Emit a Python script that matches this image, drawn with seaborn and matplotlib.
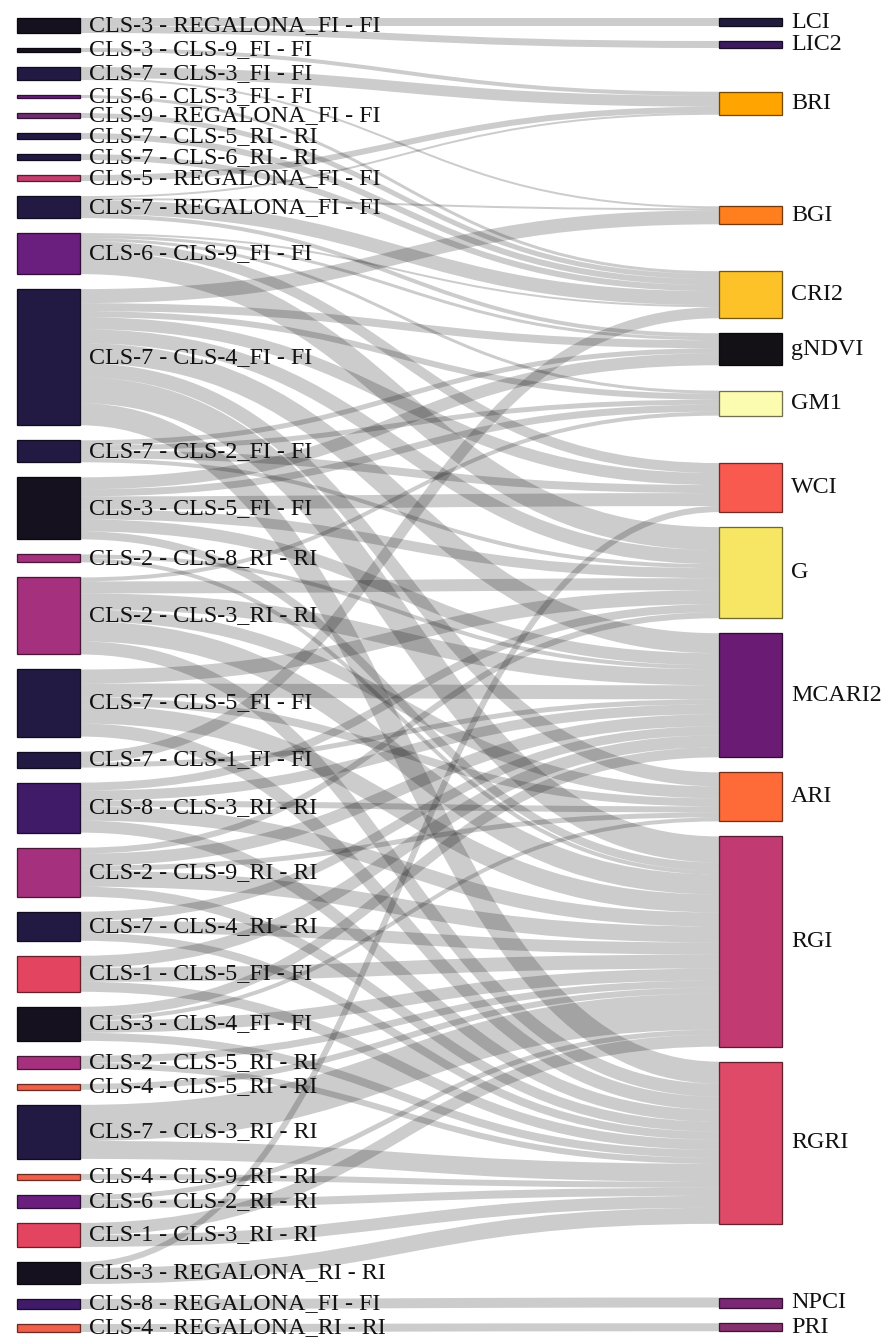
import numpy as np
import pandas as pd
import matplotlib
matplotlib.use('Agg')
import matplotlib.pyplot as plt
import matplotlib.colors as mcolors
from matplotlib.path import Path
from matplotlib.patches import PathPatch, Rectangle
import seaborn as sns

# ========== Data ==========
left_nodes = [
    'CLS-3 - REGALONA_FI - FI', 'CLS-3 - CLS-9_FI - FI', 'CLS-7 - CLS-3_FI - FI',
    'CLS-6 - CLS-3_FI - FI', 'CLS-9 - REGALONA_FI - FI', 'CLS-7 - CLS-5_RI - RI',
    'CLS-7 - CLS-6_RI - RI', 'CLS-5 - REGALONA_FI - FI', 'CLS-7 - REGALONA_FI - FI',
    'CLS-6 - CLS-9_FI - FI', 'CLS-7 - CLS-4_FI - FI', 'CLS-7 - CLS-2_FI - FI',
    'CLS-3 - CLS-5_FI - FI', 'CLS-2 - CLS-8_RI - RI', 'CLS-2 - CLS-3_RI - RI',
    'CLS-7 - CLS-5_FI - FI', 'CLS-7 - CLS-1_FI - FI', 'CLS-8 - CLS-3_RI - RI',
    'CLS-2 - CLS-9_RI - RI', 'CLS-7 - CLS-4_RI - RI', 'CLS-1 - CLS-5_FI - FI',
    'CLS-3 - CLS-4_FI - FI', 'CLS-2 - CLS-5_RI - RI', 'CLS-4 - CLS-5_RI - RI',
    'CLS-7 - CLS-3_RI - RI', 'CLS-4 - CLS-9_RI - RI', 'CLS-6 - CLS-2_RI - RI',
    'CLS-1 - CLS-3_RI - RI', 'CLS-3 - REGALONA_RI - RI', 'CLS-8 - REGALONA_FI - FI',
    'CLS-4 - REGALONA_RI - RI',
]
right_nodes = ['LCI', 'LIC2', 'BRI', 'BGI', 'CRI2', 'gNDVI', 'GM1', 'WCI', 'G',
               'MCARI2', 'ARI', 'RGI', 'RGRI', 'NPCI', 'PRI']

# links: source (index into left_nodes), target, value
link_source = [0, 0,
               1,
               2, 2,
               3, 4, 5, 6, 7,
               8, 8, 8, 8,
               9, 9, 9, 9, 9,
               10, 10, 10, 10, 10, 10, 10, 10, 10,
               11, 11, 11, 11,
               12, 12, 12, 12, 12, 12,
               13, 13,
               14, 14, 14, 14, 14, 14,
               15, 15, 15, 15, 15,
               16, 16,
               17, 17, 17, 17, 17,
               18, 18, 18, 18, 18,
               19, 19, 19,
               20, 20, 20,
               21, 21, 21, 21,
               22, 22,
               23,
               24, 24,
               25,
               26, 26,
               27, 27,
               28, 28,
               29,
               30]
link_target = ['LCI', 'LIC2',
               'BRI',
               'BRI', 'BGI',
               'CRI2', 'CRI2', 'CRI2', 'CRI2', 'BRI',
               'BRI', 'BGI', 'CRI2', 'gNDVI',
               'CRI2', 'gNDVI', 'GM1', 'WCI', 'G',
               'BGI', 'gNDVI', 'GM1', 'WCI', 'G', 'MCARI2', 'ARI', 'RGI', 'RGRI',
               'gNDVI', 'GM1', 'WCI', 'G',
               'gNDVI', 'GM1', 'WCI', 'G', 'MCARI2', 'RGI',
               'MCARI2', 'RGI',
               'GM1', 'G', 'MCARI2', 'ARI', 'RGI', 'RGRI',
               'G', 'MCARI2', 'ARI', 'RGI', 'RGRI',
               'CRI2', 'MCARI2',
               'G', 'MCARI2', 'ARI', 'RGI', 'RGRI',
               'G', 'MCARI2', 'ARI', 'RGI', 'RGRI',
               'MCARI2', 'RGI', 'RGRI',
               'MCARI2', 'RGI', 'RGRI',
               'MCARI2', 'ARI', 'RGI', 'RGRI',
               'RGI', 'RGRI',
               'RGI',
               'RGI', 'RGRI',
               'RGRI',
               'RGI', 'RGRI',
               'RGI', 'RGRI',
               'WCI', 'RGRI',
               'NPCI',
               'PRI']
link_value = [8, 7,
              4,
              11, 2,
              3, 5, 6, 6, 6,
              2, 2, 14, 4,
              2, 3, 3, 10, 23,
              14, 8, 6, 12, 14, 20, 14, 26, 22,
              5, 5, 8, 4,
              12, 7, 13, 10, 12, 8,
              4, 4,
              4, 12, 16, 12, 20, 13,
              14, 14, 8, 18, 13,
              11, 5,
              8, 10, 6, 14, 12,
              6, 12, 5, 16, 10,
              9, 12, 8,
              12, 14, 10,
              10, 4, 12, 8,
              7, 6,
              6,
              36, 18,
              6,
              5, 8,
              12, 12,
              6, 16,
              10,
              8]

prefix_colors = {'CLS-1': '#e3445f', 'CLS-2': '#a5307d', 'CLS-3': '#16111e',
                 'CLS-4': '#ef5f49', 'CLS-5': '#c43d6c', 'CLS-6': '#6a1e7e',
                 'CLS-7': '#231a44', 'CLS-8': '#3f1b68', 'CLS-9': '#6f2c70'}
right_colors = {'LCI': '#221c3c', 'LIC2': '#3b1c5c', 'BRI': '#ffa400', 'BGI': '#ff7f1e',
                'CRI2': '#fec229', 'gNDVI': '#141116', 'GM1': '#fcfcb0', 'WCI': '#f95a50',
                'G': '#f6e664', 'MCARI2': '#6a1c74', 'ARI': '#ff6b38', 'RGI': '#c13b72',
                'RGRI': '#de4a67', 'NPCI': '#7b2774', 'PRI': '#87306f'}

# ========== Sankey layout (d3-sankey style, fixed node order) ==========
W, H, DPI = 884, 1338, 100
EX0, EY0, EX1, EY1 = 17, 18, 782, 1332
NODE_W = 63
PAD = 15
ITERATIONS = 6

links = pd.DataFrame({'source': [left_nodes[i] for i in link_source],
                      'target': link_target, 'value': link_value})

nodes = {}
columns = []
for layer, names in enumerate([left_nodes, right_nodes]):
    col = []
    for name in names:
        nodes[name] = {'name': name, 'layer': layer, 'src': [], 'tgt': []}
        col.append(nodes[name])
    columns.append(col)

link_objs = []
for row in links.itertuples(index=False):
    lk = {'source': nodes[row.source], 'target': nodes[row.target], 'value': row.value}
    nodes[row.source]['src'].append(lk)
    nodes[row.target]['tgt'].append(lk)
    link_objs.append(lk)

out_sum = links.groupby('source')['value'].sum()
in_sum = links.groupby('target')['value'].sum()
for n in nodes.values():
    n['value'] = max(out_sum.get(n['name'], 0), in_sum.get(n['name'], 0))
    n['x0'] = EX0 + n['layer'] * (EX1 - EX0 - NODE_W)
    n['x1'] = n['x0'] + NODE_W

py = min(PAD, (EY1 - EY0) / (max(len(c) for c in columns) - 1))
ky = min((EY1 - EY0 - (len(c) - 1) * py) / sum(n['value'] for n in c) for c in columns)


def reorder_links(n):
    n['src'].sort(key=lambda l: l['target']['y0'])
    n['tgt'].sort(key=lambda l: l['source']['y0'])


def reorder_node_links(n):
    for l in n['tgt']:
        l['source']['src'].sort(key=lambda k: k['target']['y0'])
    for l in n['src']:
        l['target']['tgt'].sort(key=lambda k: k['source']['y0'])


def target_top(s, t):
    y = s['y0'] - (len(s['src']) - 1) * py / 2
    for l in s['src']:
        if l['target'] is t:
            break
        y += l['width'] + py
    for l in t['tgt']:
        if l['source'] is s:
            break
        y -= l['width']
    return y


def source_top(s, t):
    y = t['y0'] - (len(t['tgt']) - 1) * py / 2
    for l in t['tgt']:
        if l['source'] is s:
            break
        y += l['width'] + py
    for l in s['src']:
        if l['target'] is t:
            break
        y -= l['width']
    return y


def collide_down(col, y, i, a):
    for node in col[i:]:
        dy = (y - node['y0']) * a
        if dy > 1e-6:
            node['y0'] += dy
            node['y1'] += dy
        y = node['y1'] + py


def collide_up(col, y, i, a):
    for k in range(i, -1, -1):
        node = col[k]
        dy = (node['y1'] - y) * a
        if dy > 1e-6:
            node['y0'] -= dy
            node['y1'] -= dy
        y = node['y0'] - py


def resolve(col, a):
    i = len(col) >> 1
    sub = col[i]
    collide_up(col, sub['y0'] - py, i - 1, a)
    collide_down(col, sub['y1'] + py, i + 1, a)
    collide_up(col, EY1, len(col) - 1, a)
    collide_down(col, EY0, 0, a)


# initial stacking
for col in columns:
    y = EY0
    for n in col:
        n['y0'] = y
        n['y1'] = y + n['value'] * ky
        y = n['y1'] + py
        for l in n['src']:
            l['width'] = l['value'] * ky
    step = (EY1 - y + py) / (len(col) + 1)
    for i, n in enumerate(col):
        n['y0'] += step * (i + 1)
        n['y1'] += step * (i + 1)
for n in nodes.values():
    reorder_links(n)

for it in range(ITERATIONS):
    alpha = 0.99 ** it
    beta = max(1 - alpha, (it + 1) / ITERATIONS)
    # right to left
    for col in columns[:-1][::-1]:
        for n in col:
            ys = sum(source_top(n, l['target']) * l['value'] for l in n['src'])
            ws = sum(l['value'] for l in n['src'])
            if ws > 0:
                dy = (ys / ws - n['y0']) * alpha
                n['y0'] += dy
                n['y1'] += dy
                reorder_node_links(n)
        resolve(col, beta)
    # left to right
    for col in columns[1:]:
        for n in col:
            ys = sum(target_top(l['source'], n) * l['value'] for l in n['tgt'])
            ws = sum(l['value'] for l in n['tgt'])
            if ws > 0:
                dy = (ys / ws - n['y0']) * alpha
                n['y0'] += dy
                n['y1'] += dy
                reorder_node_links(n)
        resolve(col, beta)

for n in nodes.values():
    reorder_links(n)
for n in nodes.values():
    a = b = n['y0']
    for l in n['src']:
        l['y0'] = a + l['width'] / 2
        a += l['width']
    for l in n['tgt']:
        l['y1'] = b + l['width'] / 2
        b += l['width']

# ========== Drawing ==========
sns.set_theme(style='white')
plt.rcParams['font.family'] = ['Liberation Serif', 'DejaVu Serif']

fig = plt.figure(figsize=(W / DPI, H / DPI), dpi=DPI)
ax = fig.add_axes([0, 0, 1, 1])
ax.set_xlim(0, W)
ax.set_ylim(H, 0)
ax.axis('off')

px2pt = 72 / DPI
for l in link_objs:
    xa, xb = l['source']['x1'], l['target']['x0']
    xm = (xa + xb) / 2
    verts = [(xa, l['y0']), (xm, l['y0']), (xm, l['y1']), (xb, l['y1'])]
    path = Path(verts, [Path.MOVETO, Path.CURVE4, Path.CURVE4, Path.CURVE4])
    ax.add_patch(PathPatch(path, fill=False, edgecolor=(0, 0, 0, 0.2),
                           lw=l['width'] * px2pt, capstyle='butt', zorder=1))

for n in nodes.values():
    if n['layer'] == 0:
        color = prefix_colors[n['name'].split(' - ')[0]]
    else:
        color = right_colors[n['name']]
    edge = np.array(mcolors.to_rgb(color)) * 0.45
    ax.add_patch(Rectangle((n['x0'], n['y0']), NODE_W, n['y1'] - n['y0'],
                           facecolor=color, edgecolor=edge, lw=1.3 * px2pt, zorder=2))
    ax.text(n['x1'] + 9, (n['y0'] + n['y1']) / 2, n['name'], ha='left', va='center',
            fontsize=24 * px2pt, color='#111111', zorder=3)

fig.savefig('out.png', dpi=DPI)
